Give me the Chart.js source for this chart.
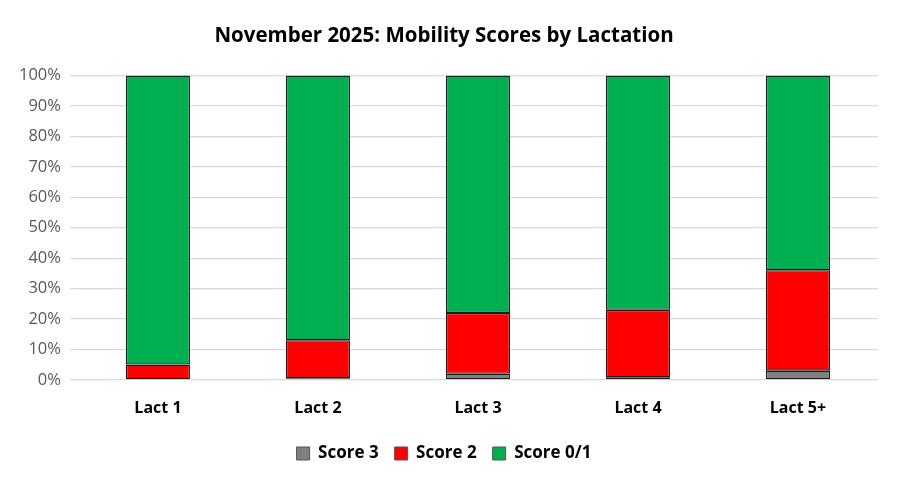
<!DOCTYPE html>
<html>
<head>
<meta charset="utf-8">
<script src="https://cdn.jsdelivr.net/npm/chart.js@4.4.0/dist/chart.umd.min.js"></script>
<style>
  html, body { margin: 0; padding: 0; background: #fff; }
  #wrap { width: 900px; height: 482px; position: relative; }
</style>
</head>
<body>
<div id="wrap"><canvas id="chart"></canvas></div>
<script>
  const categories = ["Lact 1", "Lact 2", "Lact 3", "Lact 4", "Lact 5+"];
  const score3 = [0, 0.5, 2, 0.8, 3];
  const score2 = [5, 12.5, 20, 22.2, 33];
  const score01 = [95, 87, 78, 77, 64];
  const yTicks = [0, 10, 20, 30, 40, 50, 60, 70, 80, 90, 100];

  const font = "'Open Sans', 'Liberation Sans', sans-serif";

  function ds(label, data, color) {
    return {
      label: label,
      data: data,
      backgroundColor: color,
      borderColor: "#1a1a1a",
      // no outline on empty segments
      borderWidth: (ctx) => (ctx.raw === 0 ? 0 : 1.3),
      borderSkipped: false,
      barPercentage: 0.4,
      categoryPercentage: 1.0,
    };
  }

  new Chart(document.getElementById("chart"), {
    type: "bar",
    data: {
      labels: categories,
      datasets: [
        ds("Score 3", score3, "#808080"),
        ds("Score 2", score2, "#ff0000"),
        ds("Score 0/1", score01, "#00b050"),
      ],
    },
    options: {
      responsive: true,
      maintainAspectRatio: false,
      animation: false,
      layout: { padding: { left: 10, right: 22, top: 10, bottom: 10 } },
      plugins: {
        title: {
          display: true,
          text: "November 2025: Mobility Scores by Lactation",
          color: "#000",
          font: { family: font, size: 20.5, weight: "bold" },
          padding: { top: 14, bottom: 27 },
        },
        legend: {
          position: "bottom",
          labels: {
            color: "#000",
            font: { family: font, size: 17, weight: "bold" },
            boxWidth: 13,
            boxHeight: 13,
            padding: 16,
            generateLabels: (chart) =>
              Chart.defaults.plugins.legend.labels.generateLabels(chart).map((l) => {
                l.lineWidth = 1;
                l.strokeStyle = "#555";
                return l;
              }),
          },
        },
        tooltip: { enabled: false },
      },
      scales: {
        x: {
          stacked: true,
          grid: { display: false },
          border: { display: false },
          ticks: { color: "#000", font: { family: font, size: 16, weight: "bold" }, padding: 11 },
        },
        y: {
          stacked: true,
          min: 0,
          max: 100,
          afterBuildTicks: (axis) => { axis.ticks = yTicks.map((v) => ({ value: v })); },
          grid: { color: "#d9d9d9", lineWidth: 1.2 },
          border: { display: false },
          ticks: {
            color: "#595959",
            font: { family: font, size: 16.5 },
            padding: 9,
            callback: (v) => v + "%",
          },
        },
      },
    },
  });
</script>
</body>
</html>
